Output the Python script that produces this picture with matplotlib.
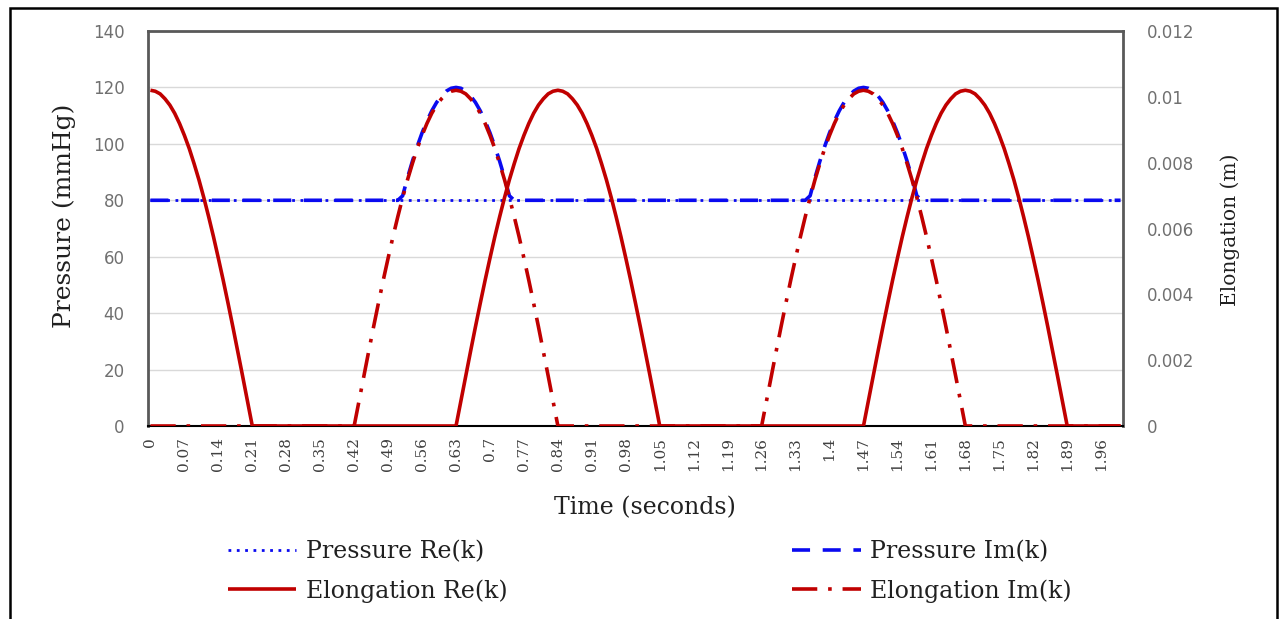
import numpy as np
import matplotlib.pyplot as plt
from matplotlib.patches import Rectangle

# category axis: 0.00 .. 2.00 s, step 0.01
time = np.round(np.arange(0, 201) * 0.01, 2)

# one falling half-lobe of elongation (m), peak -> zero
elong_fall = [0.01020, 0.01017, 0.01009, 0.00994, 0.00975, 0.00950, 0.00919,
              0.00883, 0.00843, 0.00797, 0.00748, 0.00694, 0.00636, 0.00575,
              0.00510, 0.00443, 0.00373, 0.00301, 0.00227, 0.00152, 0.00076, 0.0]
elong_rise = elong_fall[::-1]

# pressure hump above the 80 mmHg base, peak -> edge
press_fall = [120, 119.7, 118.7, 117.0, 114.7, 111.7, 108.1, 103.9, 99.1, 93.8,
              88.0, 81.6]
press_hump = press_fall[::-1] + press_fall[1:]

elong_re = (elong_fall + [0.0] * 41 + elong_rise + elong_fall[1:] + [0.0] * 41
            + elong_rise + elong_fall[1:] + [0.0] * 11)
elong_im = ([0.0] * 42 + elong_rise + elong_fall[1:] + [0.0] * 41
            + elong_rise + elong_fall[1:] + [0.0] * 32)
press_re = [80] * 201
press_im = [80] * 52 + press_hump + [80] * 61 + press_hump + [80] * 42

tick_times = time[::7]
tick_labels = [f"{t:g}" for t in tick_times]

blue = "#0a0af0"
red = "#c00000"
serif = "DejaVu Serif"

fig = plt.figure(figsize=(12.79, 6.19), dpi=100)
ax = fig.add_axes([148 / 1279, 1 - 426 / 619, (1123 - 148) / 1279, (426 - 31) / 619])
ax2 = ax.twinx()

l1, = ax.plot(time, press_re, color=blue, lw=2.0, ls=(0, (1, 2)))
l2, = ax.plot(time, press_im, color=blue, lw=2.6, ls=(0, (5, 3.5)))
l3, = ax2.plot(time, elong_re, color=red, lw=2.6, solid_capstyle="butt")
l4, = ax2.plot(time, elong_im, color=red, lw=2.6, ls=(0, (7, 3, 1, 3)))

ax.set_xlim(-0.005, 2.005)
ax.set_ylim(0, 140)
ax.set_yticks(range(0, 141, 20))
ax2.set_ylim(0, 0.012)
ax2.set_yticks(np.arange(0, 0.0121, 0.002))
ax2.set_yticklabels([f"{v:g}" for v in np.round(np.arange(0, 0.0121, 0.002), 3)])

ax.set_xticks(tick_times)
ax.set_xticklabels(tick_labels, rotation=90, family=serif, fontsize=11,
                   color="#404040")
ax.tick_params(axis="x", length=0, pad=8)
ax.tick_params(axis="y", length=0, pad=17, labelsize=12, labelcolor="#707070")
ax2.tick_params(axis="y", length=0, pad=17, labelsize=12, labelcolor="#707070")

ax.grid(axis="y", color="#d9d9d9", lw=1)
ax.set_axisbelow(True)
for s in ["top", "right", "left"]:
    ax.spines[s].set_color("#595959")
    ax.spines[s].set_linewidth(2)
ax.spines["bottom"].set_color("black")
ax.spines["bottom"].set_linewidth(1.5)
for s in ax2.spines.values():
    s.set_visible(False)

fig.text(64 / 1279, 1 - 216 / 619, "Pressure (mmHg)", rotation=90, family=serif,
         fontsize=18, ha="center", va="center", color="#202020")
fig.text(1230 / 1279, 1 - 230 / 619, "Elongation (m)", rotation=90, family=serif,
         fontsize=14.5, ha="center", va="center", color="#202020")
fig.text(645 / 1279, 1 - 508 / 619, "Time (seconds)", family=serif,
         fontsize=17, ha="center", va="center", color="#202020")

fig.legend([l1, l3, l2, l4],
           ["Pressure Re(k)", "Elongation Re(k)", "Pressure Im(k)", "Elongation Im(k)"],
           loc="upper left", bbox_to_anchor=(228 / 1279, 1 - 540 / 619), ncol=2,
           frameon=False, prop={"family": serif, "size": 17}, borderpad=0,
           borderaxespad=0, handlelength=2.9, handletextpad=0.4,
           columnspacing=12.05, labelspacing=0.68, labelcolor="#202020")

fig.patches.append(Rectangle((10 / 1279, -0.1), (1277 - 10) / 1279, 1.1 - 8 / 619,
                             transform=fig.transFigure, fill=False,
                             edgecolor="black", lw=1.8))

fig.savefig("out.png", dpi=100)
